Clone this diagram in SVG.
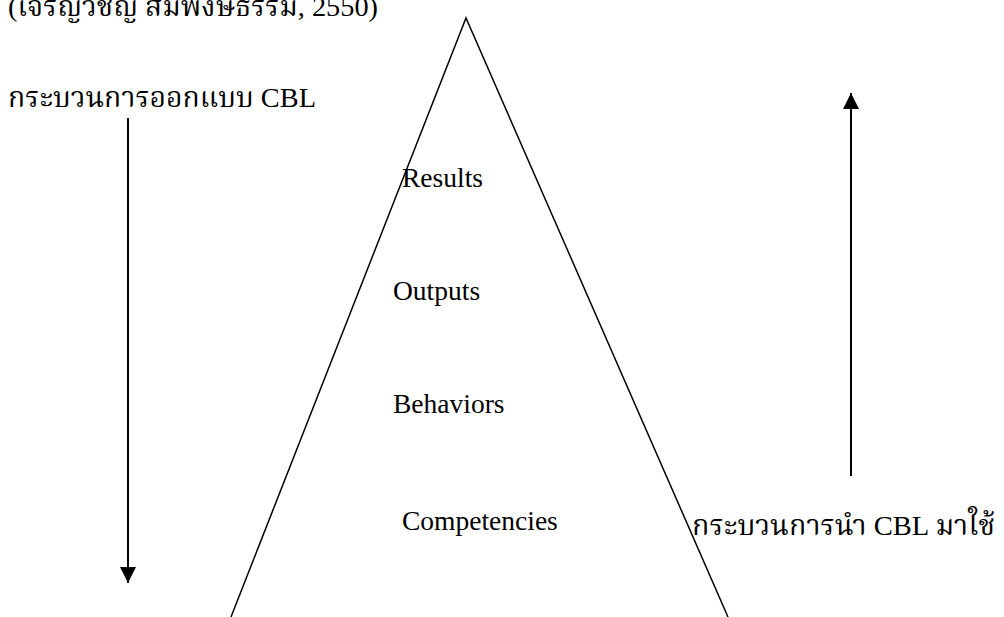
<svg xmlns="http://www.w3.org/2000/svg" width="1004" height="617" viewBox="0 0 1004 617">
  <style>
    .t { font-family: "Liberation Serif", "Noto Serif Thai", "Noto Sans Thai", "Tlwg Typo", serif; fill: #000; }
    .th { font-size: 28px; }
    .lv { font-size: 27.5px; }
    .shaft { stroke: #000; stroke-width: 2; fill: none; }
  </style>
  <defs>
    <marker id="head" viewBox="0 0 10 10" refX="10" refY="5" markerWidth="16" markerHeight="16" markerUnits="userSpaceOnUse" orient="auto">
      <path d="M0,0 L10,5 L0,10 Z" fill="#000"/>
    </marker>
  </defs>
  <rect width="1004" height="617" fill="#fff"/>

  <!-- citation line, partly clipped at the top edge -->
  <text class="t th" x="8" y="16" textLength="370" lengthAdjust="spacingAndGlyphs">(เจริญวิชญ์ สมพงษ์ธรรม, 2550)</text>

  <!-- pyramid outline -->
  <g id="pyramid">
    <path d="M231,617 L466,18 L728,617" fill="none" stroke="#000" stroke-width="1.5"/>
  </g>

  <!-- levels -->
  <g id="results"><text class="t lv" x="402" y="187">Results</text></g>
  <g id="outputs"><text class="t lv" x="393" y="300">Outputs</text></g>
  <g id="behaviors"><text class="t lv" x="393" y="413">Behaviors</text></g>
  <g id="competencies"><text class="t lv" x="402" y="530">Competencies</text></g>

  <!-- side labels -->
  <g id="design-label"><text class="t th" x="8" y="107" textLength="308" lengthAdjust="spacingAndGlyphs">กระบวนการออกแบบ CBL</text></g>
  <g id="apply-label"><text class="t th" x="692" y="535" textLength="303" lengthAdjust="spacingAndGlyphs">กระบวนการนำ CBL มาใช้</text></g>

  <!-- direction arrows -->
  <g id="connectors">
    <line class="shaft" x1="128" y1="118" x2="128" y2="583" marker-end="url(#head)"/>
    <line class="shaft" x1="851" y1="476" x2="851" y2="93" marker-end="url(#head)"/>
  </g>
</svg>
